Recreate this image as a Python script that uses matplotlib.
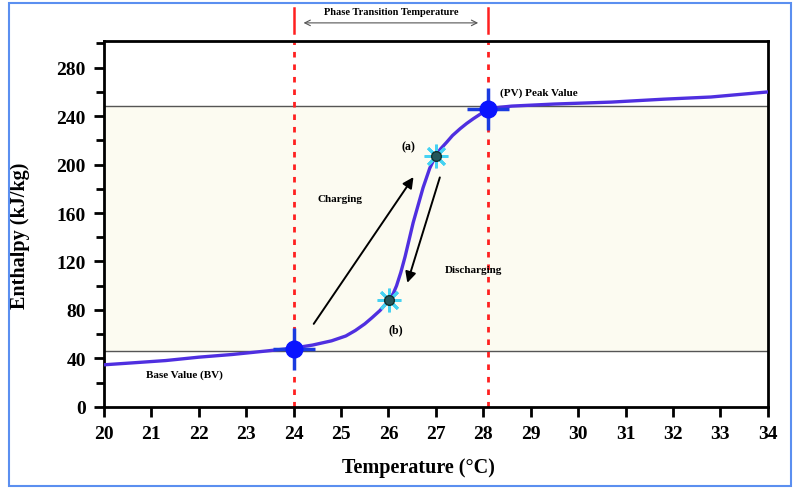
import matplotlib.pyplot as plt
import matplotlib.patches as patches
import numpy as np

# enthalpy curve
temp = [20.0, 20.6, 21.3, 22.0, 22.7, 23.4, 24.0, 24.4, 24.8, 25.1, 25.3, 25.5, 25.65,
        25.82, 25.92, 26.02, 26.1, 26.17, 26.26, 26.35, 26.52, 26.73, 26.87, 26.99,
        27.1, 27.23, 27.35, 27.51, 27.65, 27.79, 27.95, 28.1, 28.35, 28.6,
        29.5, 30.7, 31.8, 32.8, 34.0]
enthalpy = [34.7, 36.3, 38.2, 41.0, 43.2, 46.0, 48.5, 51.0, 54.5, 58.5, 63.0, 68.5, 73.5,
            79.5, 84.0, 88.6, 93.5, 100.0, 111.0, 124.0, 152.0, 181.0, 197.0, 207.0,
            213.0, 218.6, 224.0, 229.6, 234.0, 237.9, 242.0, 245.6, 247.3, 248.3,
            250.0, 251.6, 254.0, 255.8, 260.0]

base_pt = (24.0, 48.0)
peak_pt = (28.1, 245.5)
state_a = (27.0, 207.0)
state_b = (26.02, 88.6)
base_level = 46
peak_level = 248
transition = [24.0, 28.1]

xticks = list(range(20, 35))
yticks = list(range(0, 281, 40))

plt.rcParams['font.family'] = ['Liberation Serif', 'DejaVu Serif']

fig = plt.figure(figsize=(7.94, 4.89), dpi=100)
ax = fig.add_axes([0.131, 0.166, 0.836, 0.748])

ax.set_xlim(20, 34)
ax.set_ylim(0, 302)

ax.axhspan(base_level, peak_level, color='#fcfbf1', zorder=0)
ax.axhline(peak_level, color='#555555', lw=1, zorder=1)
ax.axhline(base_level, color='#555555', lw=1, zorder=1)

for t in transition:
    ax.axvline(t, color='#ff2020', lw=2, ls=(0, (2, 2.5)), zorder=2)
    ax.plot([t, t], [309, 329], color='#ff2020', lw=1.8, clip_on=False)

ax.annotate('', xy=(transition[1] - 0.15, 317), xytext=(transition[0] + 0.15, 317),
            arrowprops=dict(arrowstyle='<->', color='#555555', lw=0.8), annotation_clip=False)
ax.text(sum(transition) / 2, 326, 'Phase Transition Temperature', ha='center', va='center',
        fontsize=7.5, fontweight='bold', clip_on=False)

ax.plot(temp, enthalpy, color='#4f2fe0', lw=2.4, zorder=3, solid_joinstyle='round')

for p in [base_pt, peak_pt]:
    ax.plot(p[0], p[1], marker='+', ms=30, mew=2.5, color='#1a3be0', zorder=4)
    ax.plot(p[0], p[1], marker='o', ms=12, color='#0a14ff', mec='#0a14ff', zorder=5)

for p in [state_a, state_b]:
    ax.plot(p[0], p[1], marker=(8, 2, 0), ms=17, mew=2, color='#45d2f2', zorder=4)
    ax.plot(p[0], p[1], marker='o', ms=7, color='#24565a', mec='#10302f', zorder=5)

ax.annotate('', xy=(26.56, 191.6), xytext=(24.39, 66.6),
            arrowprops=dict(arrowstyle='-|>', color='black', lw=1.4, mutation_scale=16))
ax.annotate('', xy=(26.38, 100.2), xytext=(27.1, 191.6),
            arrowprops=dict(arrowstyle='-|>', color='black', lw=1.4, mutation_scale=16))

ax.text(26.43, 215.5, '(a)', ha='center', va='center', fontsize=8.5, fontweight='bold')
ax.text(26.15, 63.6, '(b)', ha='center', va='center', fontsize=8.5, fontweight='bold')
ax.text(24.98, 171.8, 'Charging', ha='center', va='center', fontsize=8, fontweight='bold')
ax.text(27.8, 113, 'Discharging', ha='center', va='center', fontsize=8, fontweight='bold')
ax.text(21.7, 27, 'Base Value (BV)', ha='center', va='center', fontsize=8, fontweight='bold')
ax.text(28.35, 260, '(PV) Peak Value', ha='left', va='center', fontsize=8, fontweight='bold')

ax.set_xticks(xticks)
ax.set_yticks(yticks)
ax.set_yticks(list(range(20, 301, 40)), minor=True)
ax.tick_params(axis='both', which='major', direction='out', length=7, width=2,
               labelsize=14, pad=6)
ax.tick_params(axis='y', which='minor', direction='out', length=6, width=2)
for lbl in ax.get_xticklabels() + ax.get_yticklabels():
    lbl.set_fontweight('bold')
for s in ax.spines.values():
    s.set_linewidth(2)

ax.set_xlabel('Temperature (°C)', fontsize=14.5, fontweight='bold', va='center')
ax.xaxis.set_label_coords(0.473, -0.164)
ax.set_ylabel('Enthalpy (kJ/kg)', fontsize=14.5, fontweight='bold', va='center')
ax.yaxis.set_label_coords(-0.126, 0.47)

fig.patches.append(patches.Rectangle((0.011, 0.004), 0.985, 0.988, transform=fig.transFigure,
                                     fill=False, edgecolor='#5b8ff0', lw=1.5))

fig.savefig('out.png', dpi=100)
